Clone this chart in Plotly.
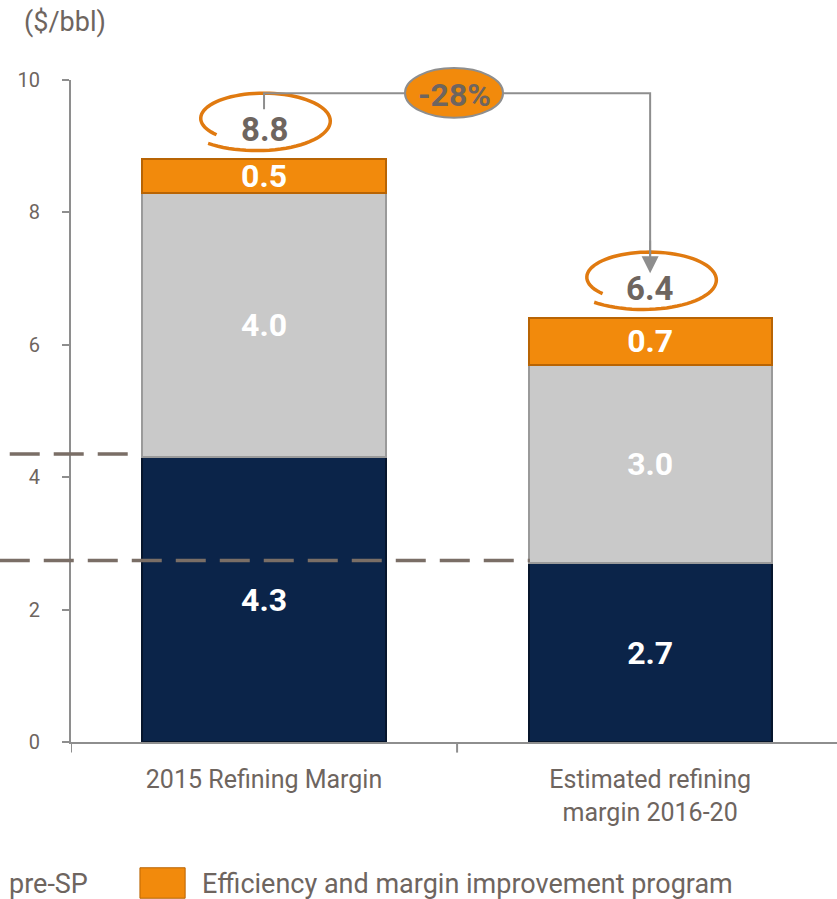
import numpy as np
import plotly.graph_objects as go

# -- data
categories = ['2015 Refining Margin', 'Estimated refining<br>margin 2016-20']
pre_sp = [4.3, 2.7]
middle = [4.0, 3.0]
efficiency = [0.5, 0.7]
totals = [8.8, 6.4]
change_label = '-28%'
y_ticks = [0, 2, 4, 6, 8, 10]

GREY_TXT = '#6e655f'
AXIS = '#8e8e8e'
NAVY = '#0b2449'
SILVER = '#c9c9c9'
ORANGE = '#f28a0c'
RING = '#e07a10'
FONT = 'Roboto'

fig = go.Figure()

# -- stacked bars
for vals, col, edge in [(pre_sp, NAVY, '#06152c'),
                        (middle, SILVER, '#9a9a9a'),
                        (efficiency, ORANGE, '#b86404')]:
    fig.add_trace(go.Bar(x=[0, 1], y=vals, width=0.63,
                         marker=dict(color=col, line=dict(color=edge, width=2)),
                         text=['%.1f' % v for v in vals], textposition='inside',
                         insidetextanchor='middle',
                         textfont=dict(color='white', size=32, family=FONT, weight='bold'),
                         showlegend=False, hoverinfo='skip'))

fig.update_layout(barmode='stack', uniformtext=dict(minsize=32, mode='show'))

# -- total labels
for i, t in enumerate(totals):
    fig.add_annotation(x=i, y=t + 0.45, text='<b>%.1f</b>' % t, showarrow=False,
                       font=dict(size=33, color=GREY_TXT, family=FONT))


# -- hand drawn looking rings round the totals
def ring(cx, cy, rx, ry):
    t = np.linspace(np.radians(140), np.radians(492), 80)
    r = np.linspace(0.82, 1.12, 80)
    xs = cx + rx * r * np.cos(t)
    ys = cy - ry * r * np.sin(t)
    return 'M ' + ' L '.join('%.4f,%.4f' % (a, b) for a, b in zip(xs, ys))


for i, t in enumerate(totals):
    fig.add_shape(type='path', xref='x', yref='y', path=ring(i - 0.01, t + 0.6, 0.18, 0.43),
                  line=dict(color=RING, width=3.5))

# -- connector from 8.8 to 6.4
fig.add_shape(type='path', xref='x', yref='y', path='M 0,9.56 L 0,9.80 L 1,9.80 L 1,7.3',
              line=dict(color=AXIS, width=2))
fig.add_annotation(x=1, y=7.08, ax=1, ay=7.6, axref='x', ayref='y', xref='x', yref='y',
                   text='', showarrow=True, arrowhead=2, arrowsize=1.7, arrowwidth=2,
                   arrowcolor=AXIS)
fig.add_shape(type='circle', xref='x', yref='paper', x0=0.365, x1=0.619, y0=0.943, y1=1.018,
              fillcolor=ORANGE, line=dict(color=AXIS, width=2))
fig.add_annotation(x=0.492, y=0.978, xref='x', yref='paper', text='<b>' + change_label + '</b>',
                   showarrow=False, yanchor='middle', xanchor='center',
                   font=dict(size=32, color=GREY_TXT, family=FONT))

# -- dashed reference lines
fig.add_shape(type='line', xref='paper', yref='paper', x0=-0.08, x1=0.077, y0=0.435, y1=0.435,
              line=dict(color='#7a6e66', width=3.5, dash='30px,14px'))
fig.add_shape(type='line', xref='paper', yref='paper', x0=-0.093, x1=0.599, y0=0.274, y1=0.274,
              line=dict(color='#7a6e66', width=3.5, dash='30px,14px'))

# -- unit label
fig.add_annotation(x=-0.064, y=1.088, xref='paper', yref='paper', text='($/bbl)',
                   showarrow=False, xanchor='left', yanchor='middle',
                   font=dict(size=27, color=GREY_TXT, family=FONT))

# -- legend (drawn by hand)
fig.add_annotation(x=-0.083, y=-0.215, xref='paper', yref='paper', text='pre-SP',
                   showarrow=False, xanchor='left', yanchor='middle',
                   font=dict(size=27, color=GREY_TXT, family=FONT))
fig.add_shape(type='rect', xref='paper', yref='paper', x0=0.09, x1=0.149, y0=-0.236, y1=-0.19,
              fillcolor=ORANGE, line=dict(color='#b86404', width=1))
fig.add_annotation(x=0.168, y=-0.215, xref='paper', yref='paper',
                   text='Efficiency and margin improvement program',
                   showarrow=False, xanchor='left', yanchor='middle',
                   font=dict(size=27, color=GREY_TXT, family=FONT))

fig.update_xaxes(range=[-0.5, 1.484], tickmode='array', tickvals=[0, 1], ticktext=categories,
                 showline=True, linecolor=AXIS, linewidth=2, ticks='', ticklabelstandoff=14,
                 tickfont=dict(size=25, color=GREY_TXT, family=FONT), showgrid=False,
                 zeroline=False)
# boundary tick marks on x axis
for xv in [-0.5, 0.5]:
    fig.add_shape(type='line', xref='x', yref='paper', x0=xv, x1=xv, y0=0, y1=-0.016,
                  line=dict(color=AXIS, width=2))

fig.update_yaxes(range=[0, 10], tickvals=y_ticks, showline=True, linecolor=AXIS, linewidth=2,
                 ticks='outside', ticklen=7, tickcolor=AXIS, tickwidth=2, showgrid=False,
                 zeroline=False, ticklabelstandoff=18,
                 tickfont=dict(size=20, color=GREY_TXT, family=FONT))

fig.update_layout(width=837, height=899, plot_bgcolor='white', paper_bgcolor='white',
                  margin=dict(l=71, r=0, t=80, b=157), bargap=0.37)

fig.write_html("out.html", config={'displayModeBar': False},
               post_script="document.body.style.margin='0px';")
